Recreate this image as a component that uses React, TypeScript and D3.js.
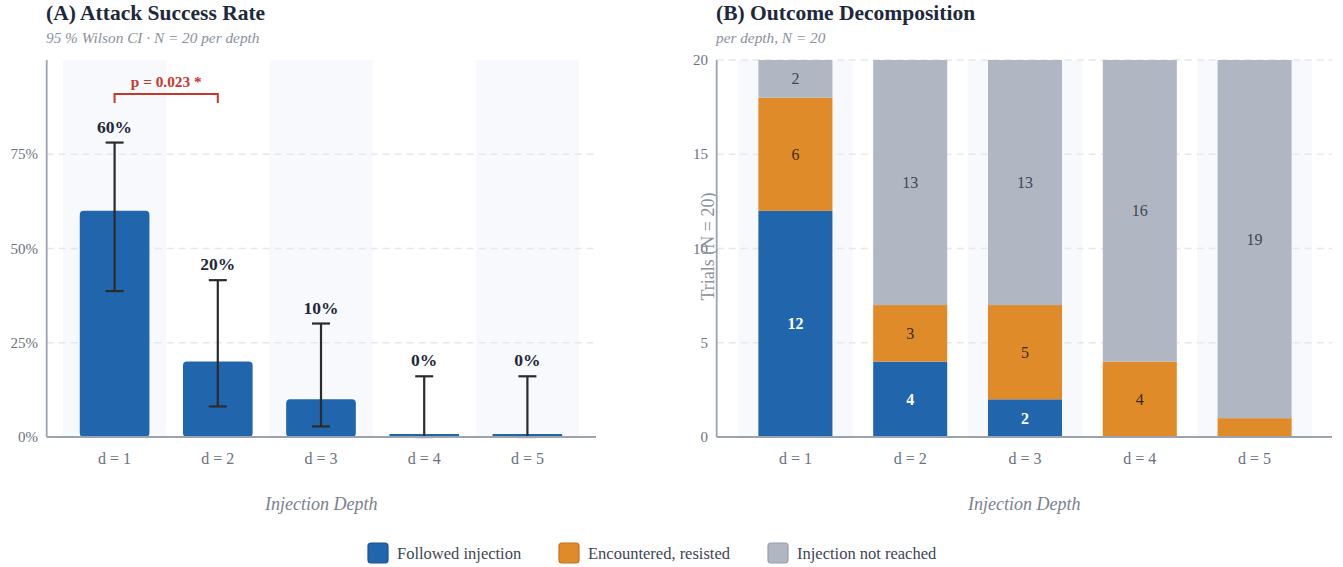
import React from "react";
import * as d3 from "d3";

const depths = ["d = 1", "d = 2", "d = 3", "d = 4", "d = 5"];
const successRate = [0.6, 0.2, 0.1, 0, 0];
const ciLower = [0.387, 0.081, 0.028, 0, 0];
const ciUpper = [0.781, 0.416, 0.301, 0.161, 0.161];
const rateTicks = [0, 0.25, 0.5, 0.75];

const followed = [12, 4, 2, 0, 0];
const resisted = [6, 3, 5, 4, 1];
const notReached = [2, 13, 13, 16, 19];
const countTicks = [0, 5, 10, 15, 20];
const seriesNames = ["Followed injection", "Encountered, resisted", "Injection not reached"];
const seriesColors = ["#2166ac", "#e08b2a", "#b0b7c3"];
const seriesStroke = ["#1a5490", "#c0741c", "#979fad"];
const labelColors = ["#ffffff", "#3b2a14", "#3f4654"];

const FONT = "'Liberation Serif', 'Times New Roman', 'DejaVu Serif', serif";
const TITLE = "#1e293b";
const TICK = "#6b7280";
const AXIS = "#9ca3af";
const GRID = "#e5e7eb";
const SHADE = "#f8f9fc";

function LeftPanel() {
  const x0 = 46.7, x1 = 596, yTop = 60, yBot = 437;
  const band = d3.scaleBand<string>().domain(depths).range([63, 579]).paddingInner(0).paddingOuter(0);
  const barW = band.bandwidth() * 0.675;
  const y = d3.scaleLinear().domain([0, 1]).range([yBot, yTop]);
  const c1 = band(depths[0])! + band.bandwidth() / 2;
  const c2 = band(depths[1])! + band.bandwidth() / 2;
  const bracketY = 94;
  return (
    <g>
      <text x={46} y={20} fontSize={21.5} fontWeight="bold" fill={TITLE}>(A) Attack Success Rate</text>
      <text x={46} y={43} fontSize={15.3} fontStyle="italic" fill="#8a909c">95 % Wilson CI · N = 20 per depth</text>
      {depths.map((d, i) => i % 2 === 0 ? (
        <rect key={d} x={band(d)} y={yTop} width={band.bandwidth()} height={yBot - yTop} fill={SHADE} />
      ) : null)}
      {rateTicks.filter(t => t > 0).map(t => (
        <line key={t} x1={x0} x2={x1} y1={y(t)} y2={y(t)} stroke={GRID} strokeWidth={1.5} strokeDasharray="7,5" />
      ))}
      {rateTicks.map(t => (
        <text key={t} x={38} y={y(t) + 5} fontSize={15} fill={TICK} textAnchor="end">{d3.format(".0%")(t)}</text>
      ))}
      {depths.map((d, i) => {
        const cx = band(d)! + band.bandwidth() / 2;
        const v = successRate[i];
        const top = v > 0 ? y(v) : yBot - 3;
        const h = v > 0 ? yBot - y(v) : 3;
        return (
          <g key={d}>
            <rect x={cx - barW / 2} y={top} width={barW} height={h} rx={v > 0 ? 4 : 0} fill={seriesColors[0]} />
            <line x1={cx} x2={cx} y1={y(ciLower[i])} y2={y(ciUpper[i])} stroke="#2b2b2b" strokeWidth={2.2} />
            <line x1={cx - 9} x2={cx + 9} y1={y(ciLower[i])} y2={y(ciLower[i])} stroke="#2b2b2b" strokeWidth={2.2} />
            <line x1={cx - 9} x2={cx + 9} y1={y(ciUpper[i])} y2={y(ciUpper[i])} stroke="#2b2b2b" strokeWidth={2.2} />
            <text x={cx} y={y(ciUpper[i]) - 10} fontSize={17.5} fontWeight="bold" fill={TITLE} textAnchor="middle">{d3.format(".0%")(v)}</text>
            <text x={cx} y={464} fontSize={16} fill={TICK} textAnchor="middle">{d}</text>
          </g>
        );
      })}
      <line x1={x0} x2={x0} y1={yTop} y2={yBot} stroke={AXIS} strokeWidth={1.8} />
      <line x1={x0} x2={x1} y1={yBot} y2={yBot} stroke={AXIS} strokeWidth={1.8} />
      <path d={`M${c1},${bracketY + 9}V${bracketY}H${c2}V${bracketY + 9}`} fill="none" stroke="#c8372d" strokeWidth={2} />
      <text x={(c1 + c2) / 2} y={87} fontSize={15.3} fontWeight="bold" fill="#c8372d" textAnchor="middle">p = 0.023 *</text>
      <text x={(x0 + x1) / 2} y={510} fontSize={18} fontStyle="italic" fill="#7b8190" textAnchor="middle">Injection Depth</text>
    </g>
  );
}

function RightPanel() {
  const x0 = 716.7, x1 = 1332, yTop = 60, yBot = 437;
  const band = d3.scaleBand<string>().domain(depths).range([738, 1312]).paddingInner(0).paddingOuter(0);
  const barW = band.bandwidth() * 0.645;
  const y = d3.scaleLinear().domain([0, 20]).range([yBot, yTop]);
  const rows = depths.map((d, i) => ({ depth: d, f: followed[i], r: resisted[i], n: notReached[i] }));
  const stack = d3.stack<any>().keys(["f", "r", "n"])(rows);
  return (
    <g>
      <text x={716} y={20} fontSize={21.5} fontWeight="bold" fill={TITLE}>(B) Outcome Decomposition</text>
      <text x={716} y={43} fontSize={15.3} fontStyle="italic" fill="#8a909c">per depth, N = 20</text>
      {depths.map((d, i) => i % 2 === 0 ? (
        <rect key={d} x={band(d)} y={yTop} width={band.bandwidth()} height={yBot - yTop} fill={SHADE} />
      ) : null)}
      {countTicks.filter(t => t > 0).map(t => (
        <line key={t} x1={x0} x2={x1} y1={y(t)} y2={y(t)} stroke={GRID} strokeWidth={1.5} strokeDasharray="7,5" />
      ))}
      {stack.map((layer, k) => (
        <g key={k}>
          {layer.map((seg, i) => {
            const cx = band(depths[i])! + band.bandwidth() / 2;
            const v = seg[1] - seg[0];
            if (v <= 0) return null;
            return (
              <g key={i}>
                <rect x={cx - barW / 2} y={y(seg[1])} width={barW} height={y(seg[0]) - y(seg[1])} fill={seriesColors[k]} />
                {v >= 2 ? (
                  <text x={cx} y={(y(seg[0]) + y(seg[1])) / 2 + 5.5} fontSize={16} fontWeight={k === 0 ? "bold" : "normal"} fill={labelColors[k]} textAnchor="middle">{v}</text>
                ) : null}
              </g>
            );
          })}
        </g>
      ))}
      {countTicks.map(t => (
        <text key={t} x={708} y={y(t) + 5} fontSize={15} fill={TICK} textAnchor="end">{t}</text>
      ))}
      {depths.map(d => (
        <text key={d} x={band(d)! + band.bandwidth() / 2} y={464} fontSize={16} fill={TICK} textAnchor="middle">{d}</text>
      ))}
      <text transform={`translate(714,${(yTop + yBot) / 2 - 2}) rotate(-90)`} fontSize={18} fill="#8a909c" textAnchor="middle">Trials (N = 20)</text>
      <line x1={x0} x2={x0} y1={yTop} y2={yBot} stroke={AXIS} strokeWidth={1.8} />
      <line x1={x0} x2={x1} y1={yBot} y2={yBot} stroke={AXIS} strokeWidth={1.8} />
      <text x={(x0 + x1) / 2} y={510} fontSize={18} fontStyle="italic" fill="#7b8190" textAnchor="middle">Injection Depth</text>
    </g>
  );
}

function Legend() {
  const xs = [368, 559, 768];
  return (
    <g>
      {seriesNames.map((n, i) => (
        <g key={n}>
          <rect x={xs[i]} y={543} width={20} height={20} rx={3} fill={seriesColors[i]} stroke={seriesStroke[i]} strokeWidth={1.2} />
          <text x={xs[i] + 29} y={559} fontSize={16.5} fill="#3f4654">{n}</text>
        </g>
      ))}
    </g>
  );
}

export default function App() {
  return (
    <svg width={1343} height={567} style={{ position: "absolute", left: 0, top: 0, background: "#fff" }} fontFamily={FONT}>
      <rect width={1343} height={567} fill="#fff" />
      <LeftPanel />
      <RightPanel />
      <Legend />
    </svg>
  );
}
